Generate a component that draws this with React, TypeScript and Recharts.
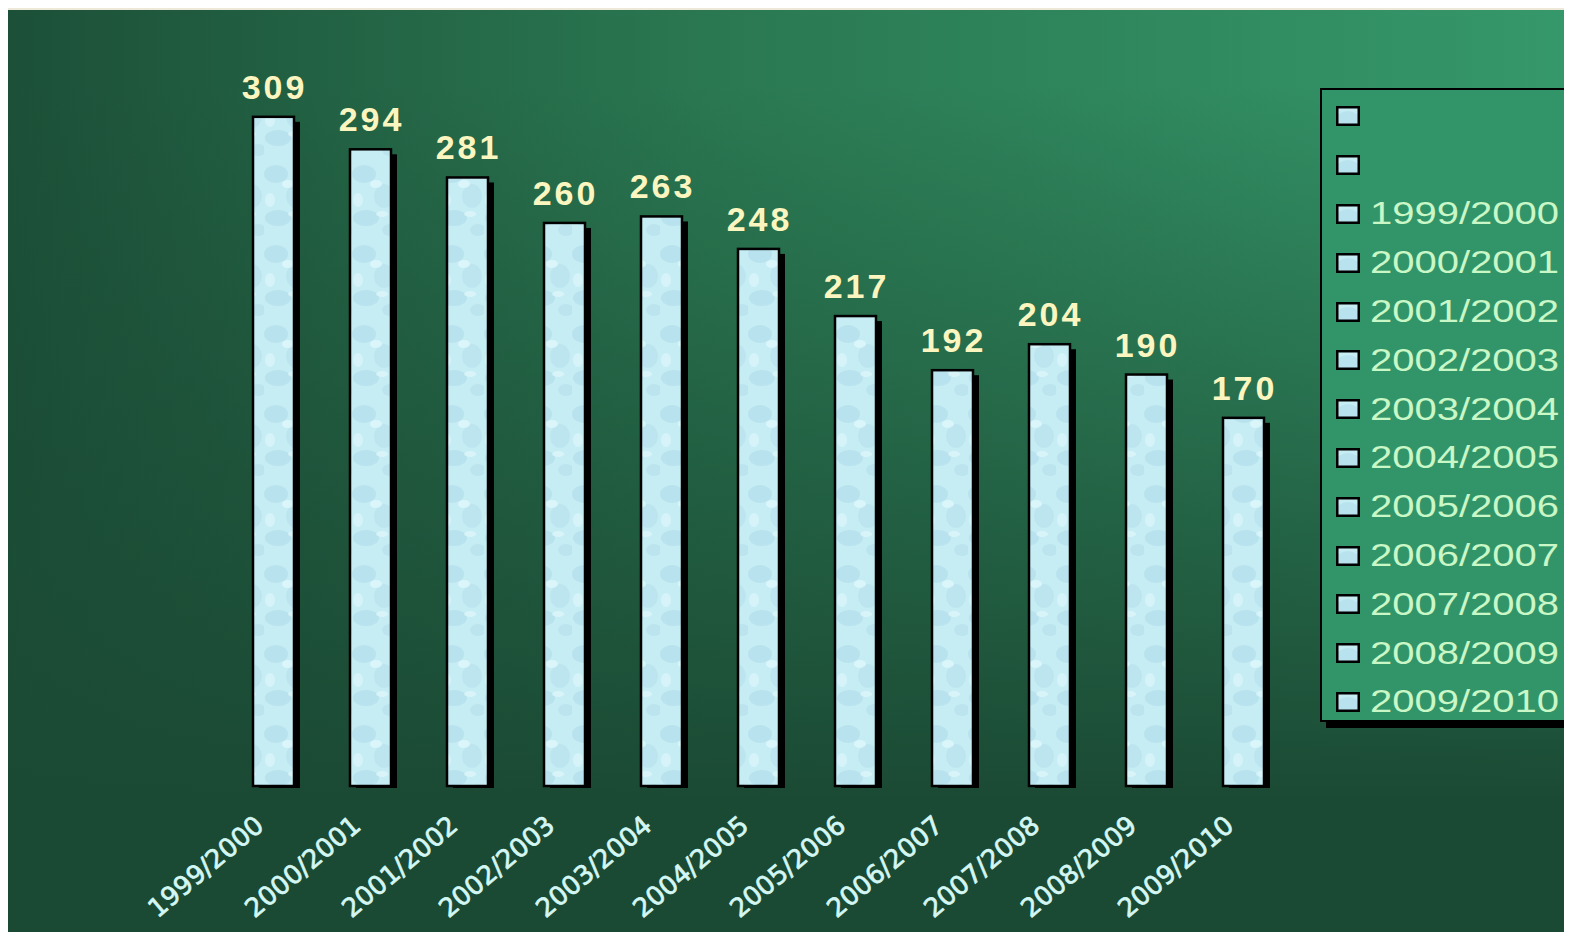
import React from 'react';
import { BarChart, Bar, XAxis, YAxis, LabelList } from 'recharts';

// school years shown on the x axis
const years = [
  '1999/2000', '2000/2001', '2001/2002', '2002/2003', '2003/2004', '2004/2005',
  '2005/2006', '2006/2007', '2007/2008', '2008/2009', '2009/2010',
];

// values
const counts = [309, 294, 281, 260, 263, 248, 217, 192, 204, 190, 170];

// the legend lists two empty entries before the years
const legendItems = ['', '', ...years];

const data = years.map((year, i) => ({ year, count: counts[i] }));

const WaterBar = (props: any) => {
  const { x, y, width, height } = props;
  if (!height) return null;
  return (
    <g>
      <rect x={x + 6} y={y + 5} width={width} height={height - 3} fill="#000" />
      <rect x={x} y={y} width={width} height={height} fill="url(#water)" stroke="#000" strokeWidth={2.5} />
    </g>
  );
};

const YearTick = (props: any) => {
  const { x, y, payload } = props;
  const ax = x - 8;
  const ay = y + 42;
  return (
    <text
      x={ax}
      y={ay}
      transform={`rotate(-40 ${ax} ${ay})`}
      textAnchor="end"
      fill="#d4f7f3"
      stroke="#d4f7f3"
      strokeWidth={0.7}
      fontSize={26}
      fontFamily="'DejaVu Sans', sans-serif"
    >
      {payload.value}
    </text>
  );
};

const ValueLabel = (props: any) => {
  const { x, y, width, value } = props;
  return (
    <text
      x={x + width / 2 + 1}
      y={y - 18}
      textAnchor="middle"
      fill="#fbf6c0"
      fontSize={34}
      fontWeight="bold"
      letterSpacing={3}
      fontFamily="'Liberation Sans', Arial, sans-serif"
    >
      {value}
    </text>
  );
};

const YearLegend = () => (
  <div
    style={{
      position: 'absolute',
      left: 1320,
      top: 88,
      width: 250,
      height: 634,
      boxSizing: 'border-box',
      background: '#32956a',
      border: '2px solid #000',
      boxShadow: '6px 6px 0 #000',
      paddingTop: 2,
    }}
  >
    {legendItems.map((label, i) => (
      <div key={i} style={{ height: 48.8, display: 'flex', alignItems: 'center', paddingLeft: 14 }}>
        <svg width={24} height={20} style={{ flex: 'none' }}>
          <rect x={1.25} y={1.25} width={21.5} height={17.5} fill="url(#water)" stroke="#000" strokeWidth={2.5} />
        </svg>
        <span
          style={{
            display: 'inline-block',
            marginLeft: 10,
            color: '#c9f7c6',
            fontFamily: "'Liberation Sans', Arial, sans-serif",
            fontSize: 32,
            transform: 'scaleX(1.25)',
            transformOrigin: 'left center',
            whiteSpace: 'nowrap',
          }}
        >
          {label}
        </span>
      </div>
    ))}
  </div>
);

export default function App() {
  return (
    <div
      style={{
        margin: -8,
        width: 1572,
        height: 940,
        position: 'relative',
        overflow: 'hidden',
        background: 'linear-gradient(to bottom, #ede8d8 0%, #e6dccb 70%, #c9b9a5 85%, #ddd2c0 100%)',
      }}
    >
      <svg width={0} height={0} style={{ position: 'absolute' }}>
        <defs>
          <pattern id="water" patternUnits="userSpaceOnUse" width={44} height={80}>
            <rect width={44} height={80} fill="#c6edf4" />
            <ellipse cx={12} cy={14} rx={12} ry={9} fill="#a6d6e5" opacity={0.45} />
            <ellipse cx={32} cy={36} rx={10} ry={12} fill="#acdae8" opacity={0.4} />
            <ellipse cx={14} cy={58} rx={13} ry={8} fill="#a2d3e3" opacity={0.4} />
            <ellipse cx={38} cy={70} rx={8} ry={6} fill="#a9d8e6" opacity={0.4} />
            <ellipse cx={24} cy={24} rx={6} ry={4} fill="#e8fbfd" opacity={0.6} />
            <ellipse cx={6} cy={40} rx={5} ry={7} fill="#e4f9fc" opacity={0.5} />
            <ellipse cx={30} cy={54} rx={6} ry={3} fill="#eafcfd" opacity={0.5} />
          </pattern>
        </defs>
      </svg>
      <div
        style={{
          position: 'absolute',
          left: 8,
          top: 10,
          width: 1564,
          height: 930,
          background:
            'linear-gradient(to bottom, rgba(27,74,52,0) 0%, rgba(27,74,52,0) 8%, rgba(27,74,52,1) 85%), linear-gradient(to right, #1c5038 0%, #2a7852 45%, #35986b 100%)',
        }}
      />
      <div style={{ position: 'absolute', left: 0, top: 0 }}>
        <BarChart
          width={1572}
          height={940}
          data={data}
          margin={{ top: 93, right: 280, bottom: 34, left: 225 }}
          barCategoryGap={0}
        >
          <XAxis
            dataKey="year"
            height={120}
            axisLine={false}
            tickLine={false}
            tickSize={0}
            tickMargin={0}
            interval={0}
            tick={<YearTick />}
          />
          <YAxis hide domain={[0, 320]} />
          <Bar dataKey="count" barSize={41} shape={<WaterBar />} isAnimationActive={false}>
            <LabelList dataKey="count" content={<ValueLabel />} />
          </Bar>
        </BarChart>
      </div>
      <YearLegend />
    </div>
  );
}
